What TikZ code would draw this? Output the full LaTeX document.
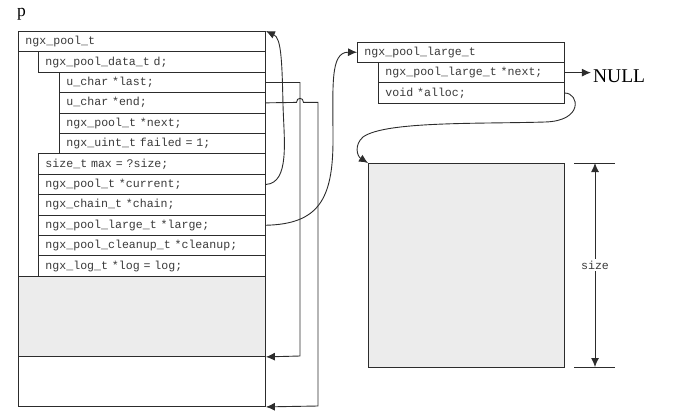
\documentclass[tikz,border=0pt]{standalone}
\usepackage{fontspec}
\setmainfont{Liberation Serif}
\newfontfamily\codefont{Liberation Mono}
\usetikzlibrary{arrows.meta}

\definecolor{ink}{HTML}{2c2c2c}
\definecolor{txt}{HTML}{3a3a3a}
\definecolor{shade}{HTML}{ECECEC}

\begin{document}
\begin{tikzpicture}[x=1pt,y=-1pt,
  fld/.style={draw=ink, line width=0.9pt, fill=white, rectangle, anchor=north west,
    inner xsep=7pt, inner ysep=0pt, minimum height=20.4pt, align=left, text=txt,
    font=\codefont\fontsize{11.6}{12}\selectfont, text height=8pt, text depth=2pt},
  wouter/.style={fld, text width=233pt},
  wdata/.style={fld, text width=213pt},
  winner/.style={fld, text width=192pt},
  wlhead/.style={fld, text width=193pt},
  wlrow/.style={fld, text width=172pt},
  block/.style={draw=ink, line width=0.9pt, fill=shade, rectangle, anchor=north west, inner sep=0pt},
  link/.style={draw=ink, line width=0.9pt},
  tip/.style={-{Latex[length=9pt,width=8pt]}}
]
\useasboundingbox (0,0) rectangle (677,420);

% the pool label
\node[font=\fontsize{17.5}{18}\selectfont, anchor=base west, inner sep=0pt, text=black] (plabel) at (17,16.5) {p};

% ngx_pool_t header block
\node[wouter] (head) at (18,31) {ngx\_pool\_t};
\node[wdata] (data) at (38,51.4) {ngx\_pool\_data\_t d;};
\node[winner] (last) at (59,71.8) {u\_char *last;};
\node[winner] (end) at (59,92.2) {u\_char *end;};
\node[winner] (next) at (59,112.6) {ngx\_pool\_t *next;};
\node[winner] (failed) at (59,133) {ngx\_uint\_t failed = 1;};
\node[wdata] (max) at (38,153.4) {size\_t max = ?size;};
\node[wdata] (current) at (38,173.8) {ngx\_pool\_t *current;};
\node[wdata] (chain) at (38,194.2) {ngx\_chain\_t *chain;};
\node[wdata] (large) at (38,214.6) {ngx\_pool\_large\_t *large;};
\node[wdata] (cleanup) at (38,235) {ngx\_pool\_cleanup\_t *cleanup;};
\node[wdata] (log) at (38,255.4) {ngx\_log\_t *log = log;};

% used and free memory of the pool
\node[block, minimum width=247pt, minimum height=80.2pt] (used) at (18,275.8) {};
\node[block, fill=white, minimum width=247pt, minimum height=50pt] (free) at (18,356) {};
\draw[link] (head.north west) rectangle (free.south east);

% ngx_pool_large_t
\node[wlhead] (lhead) at (357,41.6) {ngx\_pool\_large\_t};
\node[wlrow] (lnext) at (378,62) {ngx\_pool\_large\_t *next;};
\node[wlrow] (alloc) at (378,82.4) {void *alloc;};
\node[font=\fontsize{19.5}{20}\selectfont, anchor=west, inner xsep=2pt, inner ysep=0pt, text=black]
  (null) at ([xshift=26pt,yshift=-4pt]lnext.east) {NULL};

% large allocation
\node[block, minimum width=196pt, minimum height=204pt] (big) at (368,163) {};

% size dimension
\node[font=\codefont\fontsize{11.6}{12}\selectfont, text=txt, inner sep=2pt] (sz) at (595,265) {size};
\coordinate (dimtop) at (595,163);
\coordinate (dimbot) at (595,367);
\draw[link] ([xshift=-21pt]dimtop) -- ([xshift=20pt]dimtop);
\draw[link] ([xshift=-21pt]dimbot) -- ([xshift=20pt]dimbot);
\draw[link, tip] (sz.north) -- (dimtop);
\draw[link, tip] (sz.south) -- (dimbot);

% last -> end of used area
\coordinate (railA) at (300,356);
\draw[link, tip] (last.east) -| (railA) -- (used.south east);

% end -> end of pool, hopping over the first rail
\coordinate (railB) at (318,406);
\draw[link, tip] (end.east) -- (296.5,102.4)
  .. controls (296.5,97) and (303.5,97) .. (303.5,102.4)
  -| (railB) -- (free.south east);

% current -> the pool itself
\draw[link, tip] (current.east) .. controls (290,183) and (284,140) .. (283,105)
  .. controls (282,58) and (281,38) .. (head.north east);

% large -> ngx_pool_large_t
\draw[link, tip] (large.east) .. controls (318,224) and (333,200) .. (333,140)
  .. controls (333,85) and (330,52) .. (lhead.west);

% next -> NULL
\draw[link, tip] (lnext.east) -- (lnext.east -| null.west);

% alloc -> large allocation
\draw[link, tip] (alloc.east) .. controls (579,93) and (584,121) .. (545,122)
  .. controls (480,124) and (385,121) .. (363,137)
  .. controls (354,145) and (357,156) .. (big.north west);
\end{tikzpicture}
\end{document}
